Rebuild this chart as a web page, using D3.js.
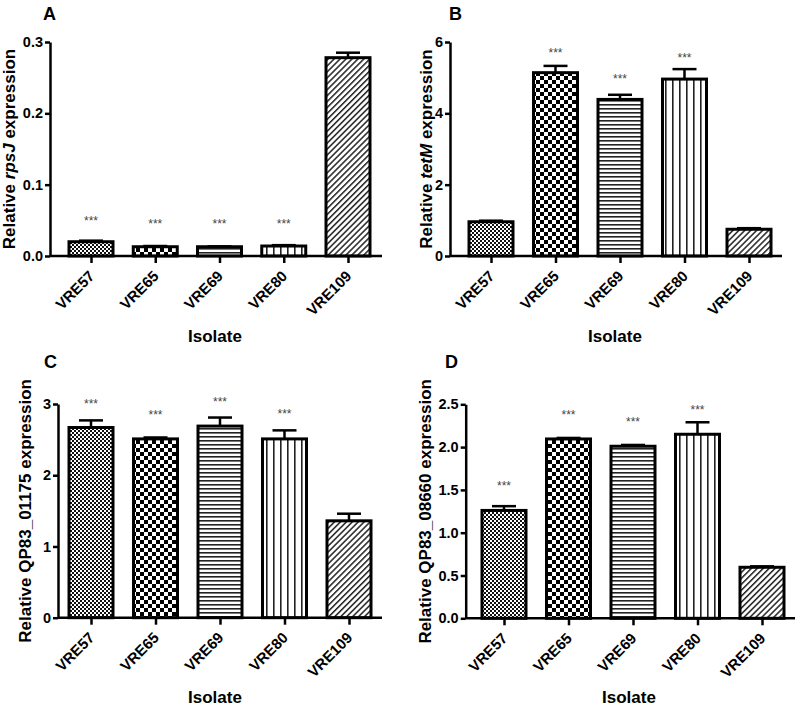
<!DOCTYPE html>
<html><head><meta charset="utf-8">
<script src="https://cdn.jsdelivr.net/npm/d3@7"></script>
<style>
html,body{margin:0;padding:0;background:#fff;}
svg{display:block;font-family:"Liberation Sans",Arial,sans-serif;}
</style></head>
<body><svg id="c" width="800" height="709"></svg>
<script>
// ---------- data ----------
const categories = ["VRE57","VRE65","VRE69","VRE80","VRE109"];

const valuesA = [0.020, 0.013, 0.013, 0.014, 0.278];
const errorsA = [0.0015, 0.001, 0.0005, 0.0012, 0.007];
const starsA  = [0.052, 0.047, 0.047, 0.047, null];
const ticksA  = [0, 0.1, 0.2, 0.3];

const valuesB = [0.96, 5.14, 4.39, 4.96, 0.75];
const errorsB = [0.03, 0.19, 0.13, 0.28, 0.03];
const starsB  = [null, 5.76, 5.02, 5.61, null];
const ticksB  = [0, 2, 4, 6];

const valuesC = [2.67, 2.51, 2.69, 2.51, 1.36];
const errorsC = [0.10, 0.02, 0.12, 0.12, 0.10];
const starsC  = [3.03, 2.87, 3.05, 2.89, null];
const ticksC  = [0, 1, 2, 3];

const valuesD = [1.26, 2.095, 2.01, 2.15, 0.596];
const errorsD = [0.05, 0.012, 0.015, 0.14, 0.011];
const starsD  = [1.57, 2.40, 2.32, 2.46, null];
const ticksD  = [0, 0.5, 1.0, 1.5, 2.0, 2.5];

const geneLabels = [
  ["Relative ", "rpsJ", " expression"],
  ["Relative ", "tetM", " expression"],
  ["Relative QP83_01175 expression", "", ""],
  ["Relative QP83_08660 expression", "", ""]
];
const panelLetters = ["A","B","C","D"];
const xTitle = "Isolate";

// ---------- layout ----------
const panels = [
  {letter:panelLetters[0], values:valuesA, errors:errorsA, stars:starsA, ticks:ticksA, fmt:".1f", label:geneLabels[0],
   left:50, right:382, top:42, bottom:256, padL:41, padR:34, letterX:43, letterY:20, ylabX:15, xtitleX:215, xtitleY:342},
  {letter:panelLetters[1], values:valuesB, errors:errorsB, stars:starsB, ticks:ticksB, fmt:"d", label:geneLabels[1],
   left:450, right:782, top:42, bottom:256, padL:41, padR:33, letterX:449, letterY:20, ylabX:432, xtitleX:615, xtitleY:342},
  {letter:panelLetters[2], values:valuesC, errors:errorsC, stars:starsC, ticks:ticksC, fmt:"d", label:geneLabels[2],
   left:58, right:382, top:404, bottom:617.7, padL:33, padR:33, letterX:44, letterY:368, ylabX:31, xtitleX:215, xtitleY:703},
  {letter:panelLetters[3], values:valuesD, errors:errorsD, stars:starsD, ticks:ticksD, fmt:".1f", label:geneLabels[3],
   left:465.7, right:795, top:404.3, bottom:618.3, padL:38.3, padR:33, letterX:445, letterY:368, ylabX:431, xtitleX:629, xtitleY:703}
];

const svg = d3.select("#c");
const defs = svg.append("defs");

// patterns
function pat(id, w, h){ return defs.append("pattern").attr("id",id).attr("patternUnits","userSpaceOnUse").attr("width",w).attr("height",h); }
{ const p = pat("p57",4,4); p.append("rect").attr("width",4).attr("height",4).attr("fill","#fff");
  p.append("rect").attr("width",2).attr("height",2).attr("fill","#111");
  p.append("rect").attr("x",2).attr("y",2).attr("width",2).attr("height",2).attr("fill","#111"); }
{ const p = pat("p65",8,8); p.append("rect").attr("width",8).attr("height",8).attr("fill","#fff");
  p.append("rect").attr("width",4).attr("height",4).attr("fill","#000");
  p.append("rect").attr("x",4).attr("y",4).attr("width",4).attr("height",4).attr("fill","#000"); }
{ const p = pat("p69",4,4); p.append("rect").attr("width",4).attr("height",4).attr("fill","#fff");
  p.append("rect").attr("y",0).attr("width",4).attr("height",1.6).attr("fill","#222"); }
{ const p = pat("p80",7,7); p.append("rect").attr("width",7).attr("height",7).attr("fill","#fff");
  p.append("rect").attr("x",0).attr("width",1.6).attr("height",7).attr("fill","#222"); }
{ const p = pat("p109",4.2,4.2).attr("patternTransform","rotate(45)"); p.append("rect").attr("width",4.2).attr("height",4.2).attr("fill","#fff");
  p.append("rect").attr("x",0).attr("width",1.5).attr("height",4.2).attr("fill","#222"); }
const fills = ["url(#p57)","url(#p65)","url(#p69)","url(#p80)","url(#p109)"];

const barW = 44;

panels.forEach(P => {
  const g = svg.append("g");
  const x = d3.scalePoint().domain(categories).range([P.left + P.padL, P.right - P.padR]);
  const y = d3.scaleLinear().domain([P.ticks[0], P.ticks[P.ticks.length-1]]).range([P.bottom, P.top]);

  const rows = categories.map((c,i)=>({c, v:P.values[i], e:P.errors[i], s:P.stars[i], f:fills[i]}));

  // error bars
  g.selectAll(".eb").data(rows).join("line")
    .attr("x1",d=>x(d.c)).attr("x2",d=>x(d.c))
    .attr("y1",d=>y(d.v)).attr("y2",d=>y(d.v+d.e))
    .attr("stroke","#000").attr("stroke-width",2.5);
  g.selectAll(".cap").data(rows).join("line")
    .attr("x1",d=>x(d.c)-12).attr("x2",d=>x(d.c)+12)
    .attr("y1",d=>y(d.v+d.e)).attr("y2",d=>y(d.v+d.e))
    .attr("stroke","#000").attr("stroke-width",2.5);

  // bars
  g.selectAll(".bar").data(rows).join("rect")
    .attr("x",d=>x(d.c)-barW/2).attr("width",barW)
    .attr("y",d=>y(d.v)).attr("height",d=>y(0)-y(d.v))
    .attr("fill",d=>d.f).attr("stroke","#000").attr("stroke-width",3);

  // stars
  g.selectAll(".star").data(rows.filter(d=>d.s!=null)).join("text")
    .attr("x",d=>x(d.c)).attr("y",d=>y(d.s)+6)
    .attr("text-anchor","middle").attr("font-size",12).attr("fill","#444")
    .text("***");

  // y axis
  const ya = g.append("g").attr("transform",`translate(${P.left},0)`)
    .call(d3.axisLeft(y).tickValues(P.ticks).tickFormat(d3.format(P.fmt)).tickSize(5).tickSizeOuter(0).tickPadding(2));
  ya.select(".domain").attr("stroke-width",2.5);
  ya.selectAll(".tick line").attr("stroke-width",2.5);
  ya.selectAll(".tick text").attr("font-size",14.5).attr("font-weight","bold").attr("fill","#000");

  // x axis
  const xa = g.append("g").attr("transform",`translate(0,${P.bottom})`)
    .call(d3.axisBottom(x).tickSize(7).tickSizeOuter(0));
  xa.select(".domain").remove();
  xa.append("line").attr("x1",P.left).attr("x2",P.right).attr("stroke","#000").attr("stroke-width",2.5);
  xa.selectAll(".tick line").attr("stroke-width",2.5);
  xa.selectAll(".tick text").attr("font-size",15).attr("font-weight","bold").attr("fill","#000")
    .attr("text-anchor","end").attr("dy",null).attr("y",null)
    .attr("transform","translate(4,21) rotate(-45)");

  // x title
  g.append("text").attr("x",P.xtitleX).attr("y",P.xtitleY).attr("text-anchor","middle")
    .attr("font-size",17).attr("font-weight","bold").text(xTitle);

  // y title
  const yt = g.append("text").attr("transform",`translate(${P.ylabX},${(P.top+P.bottom)/2}) rotate(-90)`)
    .attr("text-anchor","middle").attr("font-size",17).attr("font-weight","bold");
  yt.append("tspan").text(P.label[0]);
  if (P.label[1]) yt.append("tspan").attr("font-style","italic").text(P.label[1]);
  if (P.label[2]) yt.append("tspan").text(P.label[2]);

  // panel letter
  g.append("text").attr("x",P.letterX).attr("y",P.letterY).attr("font-size",18).attr("font-weight","bold").text(P.letter);
});
</script></body></html>
